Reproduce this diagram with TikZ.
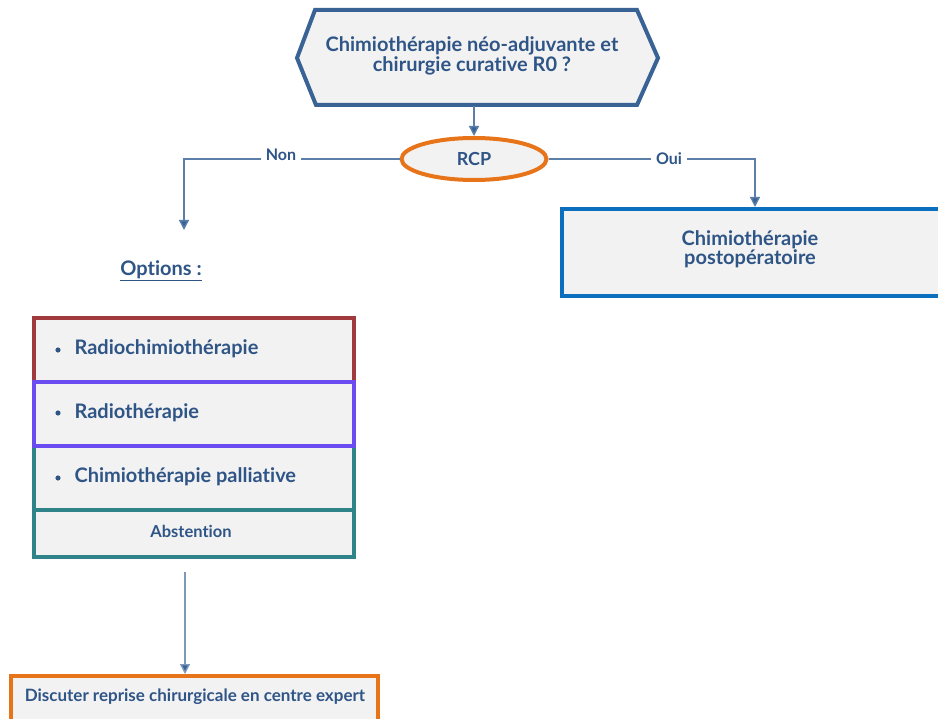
\documentclass[tikz,border=0pt]{standalone}
\usepackage{fontspec}
\setmainfont{Lato}[Ligatures=NoCommon]
\usetikzlibrary{arrows.meta,shapes.geometric,calc}
\definecolor{txtblue}{HTML}{2F5587}
\definecolor{hexblue}{HTML}{3A6395}
\definecolor{linkblue}{HTML}{5B7FA8}
\definecolor{boxblue}{HTML}{0A6FBF}
\definecolor{rcporange}{HTML}{E8741A}
\definecolor{rowred}{HTML}{A03A3C}
\definecolor{rowviolet}{HTML}{6B4CF0}
\definecolor{rowteal}{HTML}{2E8489}
\definecolor{panel}{HTML}{F2F2F2}
\tikzset{
  txt/.style={text=txtblue, font=\bfseries},
  link/.style={draw=linkblue, line width=1.4pt, -{Triangle[width=10pt,length=10pt,fill=hexblue]}},
  tag/.style={fill=white, txt, font=\bfseries\fontsize{16}{16}\selectfont, inner sep=5pt},
  row/.style={draw=#1, fill=panel, line width=3.2pt},
  rowtext/.style={txt, font=\bfseries\fontsize{20}{20}\selectfont, anchor=west},
}
\begin{document}
\begin{tikzpicture}[x=1pt,y=-1pt]
\clip (0,0) rectangle (938,719);
\fill[white] (0,0) rectangle (938,719);

% decision hexagon
\draw[hexblue, fill=panel, line width=4pt, line join=miter]
  (315,10) -- (637,10) -- (658,58) -- (637,105) -- (316,105) -- (297,58) -- cycle;
\node[txt, font=\bfseries\fontsize{20}{17}\selectfont, align=center] (q) at (472,56)
  {Chimiothérapie néo-adjuvante et\\chirurgie curative R0 ?};
\coordinate (qb) at (474,106);

% multidisciplinary meeting
\node[ellipse, draw=rcporange, fill=panel, line width=4pt, minimum width=145pt,
  minimum height=42pt, inner sep=0pt, txt, font=\bfseries\fontsize{18}{18}\selectfont]
  (rcp) at (474,159) {RCP};
\draw[link] (qb) -- (rcp.north);

% branch "Oui"
\draw[draw=boxblue, fill=panel, line width=4.5pt] (562,209) rectangle (960,296);
\node[txt, font=\bfseries\fontsize{20}{17}\selectfont, align=center] (post) at (750,249)
  {Chimiothérapie\\postopératoire};
\coordinate (posttop) at (755,207);
\draw[link] (rcp.east) -| (posttop);
\node[tag] (oui) at (669,159) {Oui};

% branch "Non"
\coordinate (nonend) at (184,230);
\draw[link] (rcp.west) -| (nonend);
\node[tag] (non) at (281,155) {Non};

\node[txt, font=\bfseries\fontsize{20}{20}\selectfont] (opt) at (161,271)
  {\underline{Options :}};

% list of options
\draw[row=rowred]    (34,318) rectangle (354,382);
\draw[row=rowteal]   (34,446) rectangle (354,510);
\draw[row=rowteal]   (34,510) rectangle (354,557);
\draw[row=rowviolet] (34,382) rectangle (354,446);
\node[rowtext] (o1) at (71,349) {Radiochimiothérapie};
\node[rowtext] (o2) at (71,413) {Radiothérapie};
\node[rowtext] (o3) at (71,477) {Chimiothérapie palliative};
\foreach \yy in {350,413,478} \fill[txtblue] (58,\yy) circle (2.6);
\node[txt, font=\bfseries\fontsize{16.5}{16}\selectfont] (o4) at (191,531) {Abstention};
\coordinate (stackbot) at (185,572);

% expert centre
\draw[draw=rcporange, fill=panel, line width=4.5pt] (11,676) rectangle (378,740);
\node[txt, font=\bfseries\fontsize{17}{17}\selectfont] (exp) at (195,697)
  {Discuter reprise chirurgicale en centre expert};
\coordinate (exptop) at (185,674);
\draw[link, draw=linkblue!80] (stackbot) -- (exptop);
\end{tikzpicture}
\end{document}
